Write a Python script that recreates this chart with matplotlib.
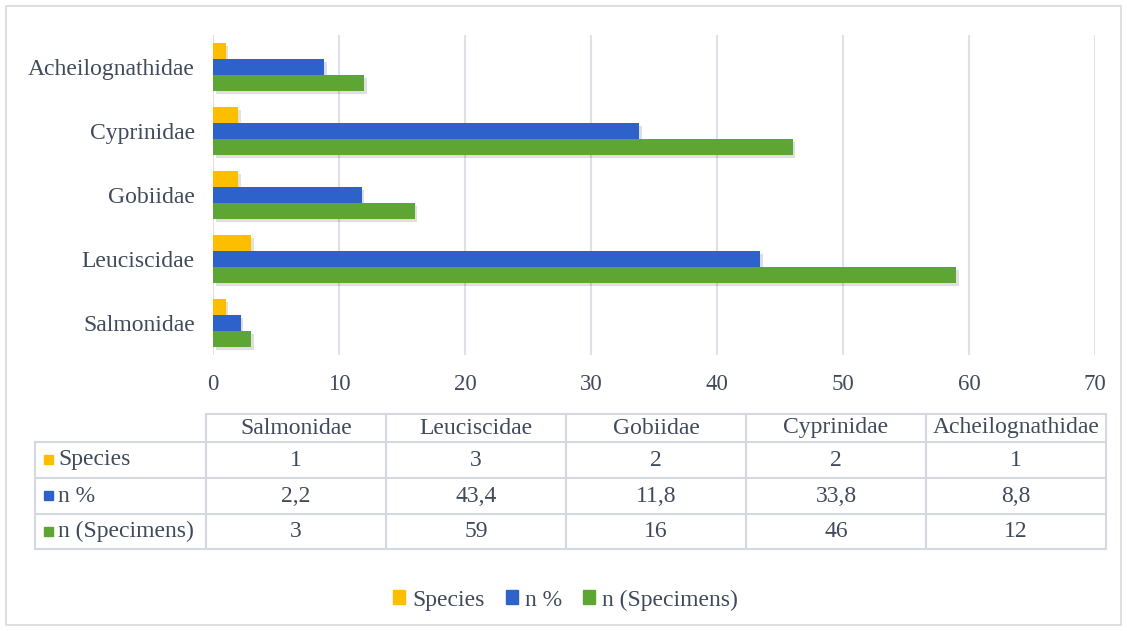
import matplotlib
matplotlib.use("Agg")
import matplotlib.pyplot as plt
import matplotlib.patheffects as pe
from matplotlib.patches import Patch, Rectangle
import numpy as np

plt.rcParams['font.family'] = ['Liberation Serif', 'DejaVu Serif']

families = ['Salmonidae', 'Leuciscidae', 'Gobiidae', 'Cyprinidae', 'Acheilognathidae']
species = [1, 3, 2, 2, 1]
n_pct = [2.2, 43.4, 11.8, 33.8, 8.8]
n_spec = [3, 59, 16, 46, 12]
series_names = ['Species', 'n %', 'n (Specimens)']
colors = ['#FDBE00', '#2E62CB', '#5DA633']
xticks = [0, 10, 20, 30, 40, 50, 60, 70]

txt = '#404a5a'
grid_c = '#dde1e8'
W, H = 1127, 631
fs = 17

fig = plt.figure(figsize=(W / 100, H / 100), dpi=100)
fig.patches.append(Rectangle((6 / W, 6 / H), 1 - 12 / W, 1 - 12 / H, transform=fig.transFigure,
                             fill=False, edgecolor='#d9d9d9', lw=1.2))

ax = fig.add_axes([213 / W, 1 - 355 / H, (1095 - 213) / W, (355 - 35) / H])
y = np.arange(len(families))
h = 0.25
shadow = [pe.SimplePatchShadow(offset=(2, -2), alpha=0.15), pe.Normal()]
for vals, off, c in zip([species, n_pct, n_spec], [h, 0, -h], colors):
    bars = ax.barh(y + off, vals, height=h, color=c, zorder=3)
    for b in bars:
        b.set_path_effects(shadow)

ax.set_xlim(0, 70)
ax.set_ylim(-0.5, 4.5)
ax.set_xticks(xticks)
ax.set_yticks(y)
ax.set_yticklabels(families)
ax.tick_params(length=0, labelsize=16.5, colors=txt)
ax.tick_params(axis='x', pad=14)
ax.tick_params(axis='y', labelsize=fs, pad=13)
ax.grid(axis='x', color=grid_c, lw=1.5, zorder=0)
for s in ax.spines.values():
    s.set_visible(False)

# data table
tax = fig.add_axes([0, 0, 1, 1])
tax.set_xlim(0, W)
tax.set_ylim(H, 0)
tax.axis('off')
col_x = [206, 386, 566, 746, 926, 1106]
row_y = [414, 442, 478, 514, 549]
lc = '#d4d9e1'
tax.plot([206, 1106], [row_y[0], row_y[0]], color=lc, lw=1.5)
for yy in row_y[1:]:
    tax.plot([35, 1106], [yy, yy], color=lc, lw=1.5)
tax.plot([35, 35], [row_y[1], row_y[-1]], color=lc, lw=1.5)
for xx in col_x:
    tax.plot([xx, xx], [row_y[0], row_y[-1]], color=lc, lw=1.5)

for j, fam in enumerate(families):
    cx = (col_x[j] + col_x[j + 1]) / 2
    tax.text(cx, (row_y[0] + row_y[1]) / 2, fam, ha='center', va='center', fontsize=fs, color=txt)
rows = [species, n_pct, n_spec]
for i, vals in enumerate(rows):
    cy = (row_y[i + 1] + row_y[i + 2]) / 2
    tax.add_patch(Rectangle((44, cy - 5), 9, 9, color=colors[i]))
    tax.text(58, cy, series_names[i], ha='left', va='center', fontsize=fs, color=txt)
    for j, v in enumerate(vals):
        cx = (col_x[j] + col_x[j + 1]) / 2
        s = str(v).replace('.', ',')
        tax.text(cx, cy, s, ha='center', va='center', fontsize=fs, color=txt)

handles = [Patch(color=c, label=n) for c, n in zip(colors, series_names)]
fig.legend(handles=handles, loc='center', bbox_to_anchor=(0.502, 1 - 600 / H), ncol=3, frameon=False,
           fontsize=fs, handlelength=0.5, handleheight=0.5, handletextpad=0.3, columnspacing=0.9,
           labelcolor=txt)

fig.savefig('out.png', dpi=100, facecolor='white')
